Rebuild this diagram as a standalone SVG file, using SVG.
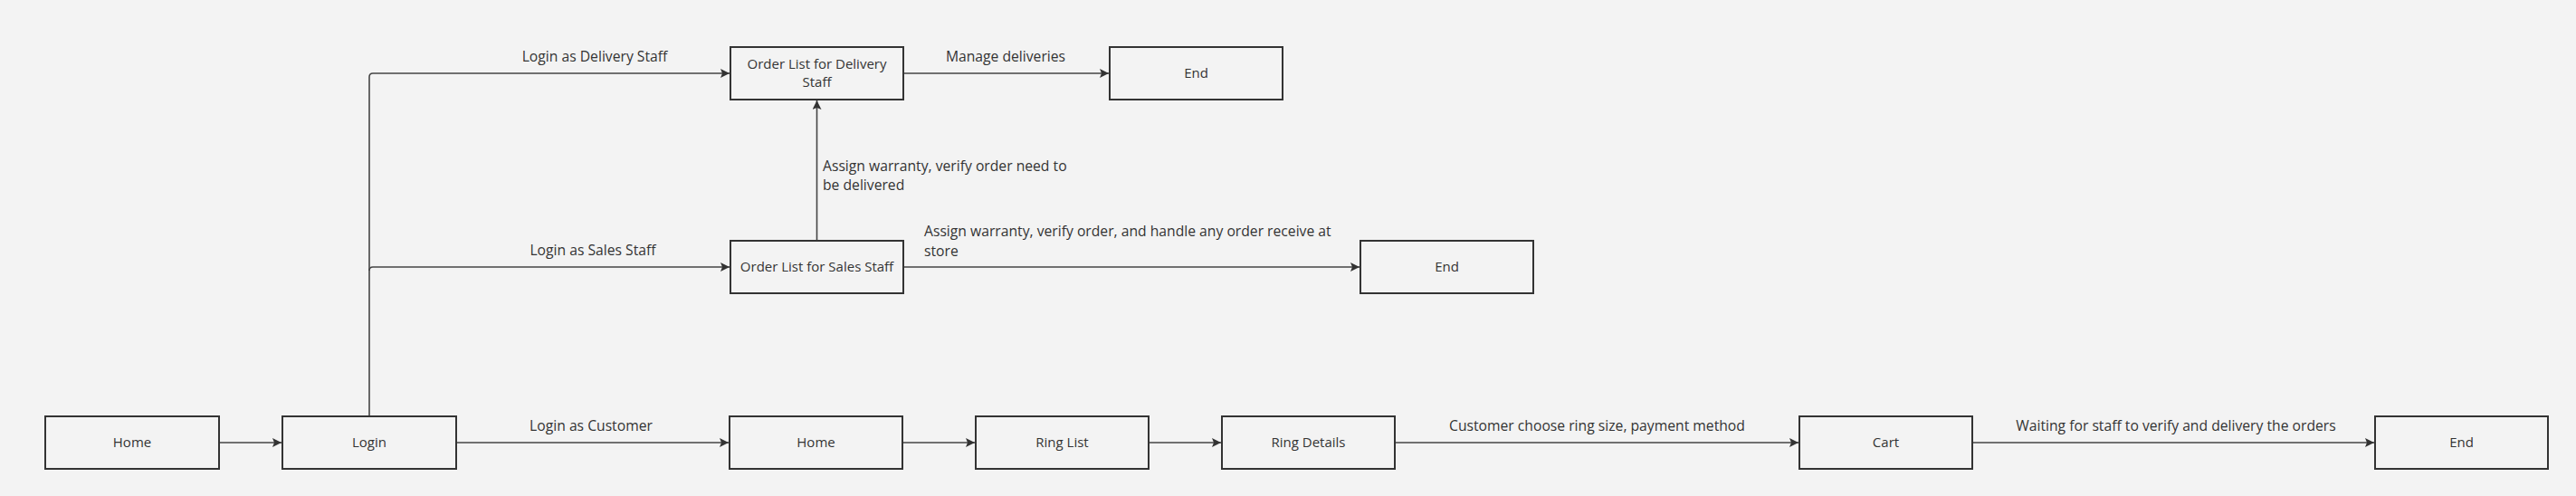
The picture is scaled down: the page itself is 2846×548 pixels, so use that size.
<svg xmlns="http://www.w3.org/2000/svg" width="2846" height="548" viewBox="0 0 2846 548">
<style>
.box{fill:#f3f3f3;stroke:#333333;stroke-width:2}
.nt{font-family:"Open Sans","Noto Sans",sans-serif;font-size:15px;fill:#333333;text-anchor:middle}
.lt{font-family:"Open Sans","Noto Sans",sans-serif;font-size:15.7px;fill:#333333}
.c{fill:none;stroke:#454545;stroke-width:1.6}
</style>
<defs>
<marker id="ah" viewBox="0 0 10 10" refX="10" refY="5" markerWidth="10" markerHeight="10" markerUnits="userSpaceOnUse" orient="auto">
<path d="M0,0 L10,5 L0,10 L2,5 Z" fill="#333333"/>
</marker>
</defs>
<rect width="2846" height="548" fill="#f3f3f3"/>
<g id="connectors">
<path class="c" d="M242,489 H311" marker-end="url(#ah)"/>
<path class="c" d="M503,489 H805" marker-end="url(#ah)"/>
<path class="c" d="M997,489 H1077" marker-end="url(#ah)"/>
<path class="c" d="M1269,489 H1349" marker-end="url(#ah)"/>
<path class="c" d="M1541,489 H1987" marker-end="url(#ah)"/>
<path class="c" d="M2179,489 H2623" marker-end="url(#ah)"/>
<path class="c" d="M408,460 V85 Q408,81 412,81 H806" marker-end="url(#ah)"/>
<path class="c" d="M408,299 Q408,295 412,295 H806" marker-end="url(#ah)"/>
<path class="c" d="M998,81 H1225" marker-end="url(#ah)"/>
<path class="c" d="M998,295 H1502" marker-end="url(#ah)"/>
<path class="c" d="M902.5,266 V111" marker-end="url(#ah)"/>
<text class="lt" x="657" y="68" text-anchor="middle">Login as Delivery Staff</text>
<text class="lt" x="655" y="282" text-anchor="middle">Login as Sales Staff</text>
<text class="lt" x="653" y="476" text-anchor="middle">Login as Customer</text>
<text class="lt" x="1111" y="68" text-anchor="middle">Manage deliveries</text>
<text class="lt" x="909" y="189">Assign warranty, verify order need to</text>
<text class="lt" x="909" y="210">be delivered</text>
<text class="lt" x="1021" y="261">Assign warranty, verify order, and handle any order receive at</text>
<text class="lt" x="1021" y="283">store</text>
<text class="lt" x="1601" y="476">Customer choose ring size, payment method</text>
<text class="lt" x="2404" y="476" text-anchor="middle">Waiting for staff to verify and delivery the orders</text>
</g>
<g id="home1"><rect class="box" x="50" y="460" width="192" height="58"/><text class="nt" x="146" y="494">Home</text></g>
<g id="login"><rect class="box" x="312" y="460" width="192" height="58"/><text class="nt" x="408" y="494">Login</text></g>
<g id="home2"><rect class="box" x="806" y="460" width="191" height="58"/><text class="nt" x="901.5" y="494">Home</text></g>
<g id="ringlist"><rect class="box" x="1078" y="460" width="191" height="58"/><text class="nt" x="1173.5" y="494">Ring List</text></g>
<g id="ringdetails"><rect class="box" x="1350" y="460" width="191" height="58"/><text class="nt" x="1445.5" y="494">Ring Details</text></g>
<g id="cart"><rect class="box" x="1988" y="460" width="191" height="58"/><text class="nt" x="2083.5" y="494">Cart</text></g>
<g id="end3"><rect class="box" x="2624" y="460" width="191" height="58"/><text class="nt" x="2719.5" y="494">End</text></g>
<g id="delivery"><rect class="box" x="807" y="52" width="191" height="58"/><text class="nt" x="902.5" y="76">Order List for Delivery</text><text class="nt" x="902.5" y="96">Staff</text></g>
<g id="sales"><rect class="box" x="807" y="266" width="191" height="58"/><text class="nt" x="902.5" y="300">Order List for Sales Staff</text></g>
<g id="end1"><rect class="box" x="1226" y="52" width="191" height="58"/><text class="nt" x="1321.5" y="86">End</text></g>
<g id="end2"><rect class="box" x="1503" y="266" width="191" height="58"/><text class="nt" x="1598.5" y="300">End</text></g>
</svg>
